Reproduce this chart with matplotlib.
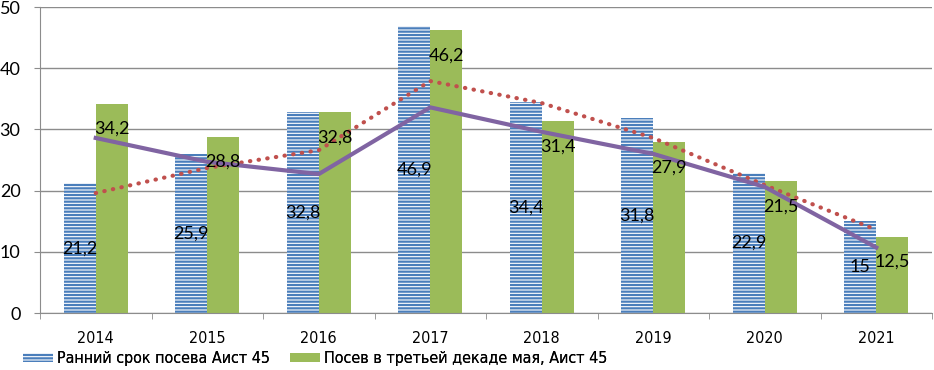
import matplotlib
matplotlib.use("Agg")
import matplotlib.pyplot as plt
import numpy as np

years = ['2014', '2015', '2016', '2017', '2018', '2019', '2020', '2021']
early = [21.2, 25.9, 32.8, 46.9, 34.4, 31.8, 22.9, 15]
late = [34.2, 28.8, 32.8, 46.2, 31.4, 27.9, 21.5, 12.5]
# the two lines drawn across the bars
dotted_line = [19.6, 23.7, 26.6, 37.9, 34.3, 28.6, 20.9, 13.6]
solid_line = [28.6, 24.7, 22.7, 33.6, 29.6, 26.0, 20.6, 10.7]
names = ['Ранний срок посева Аист 45', 'Посев в третьей декаде мая, Аист 45']

plt.rcParams['font.family'] = ['Lato', 'DejaVu Sans']
plt.rcParams['hatch.linewidth'] = 1.6

fig = plt.figure(figsize=(9.34, 3.7), dpi=100)
ax = fig.add_axes([40 / 934, 57 / 370, 892 / 934, 306 / 370])

x = np.arange(len(years))
w = 0.287
blue = '#4a7ebb'
green = '#9bbb59'
narrow = {'family': 'DejaVu Sans', 'stretch': 'condensed', 'size': 11.5}

b1 = ax.bar(x - w / 2, early, w, color='white', edgecolor=blue, linewidth=0,
            hatch='-----', label=names[0], zorder=2)
b2 = ax.bar(x + w / 2, late, w, color=green, linewidth=0, label=names[1], zorder=2)

ax.plot(x, dotted_line, color='#c0504d', linewidth=3, linestyle=(0, (0.1, 2.0)),
        dash_capstyle='round', zorder=3)
ax.plot(x, solid_line, color='#8064a2', linewidth=3, zorder=3)

def fmt(v):
    return ('%g' % v).replace('.', ',')

ax.bar_label(b1, labels=[fmt(v) for v in early], label_type='center',
             fontsize=13, zorder=4)
ax.bar_label(b2, labels=[fmt(v) for v in late], padding=-24,
             fontsize=13, zorder=4)

ax.set_ylim(0, 50)
ax.set_xlim(-0.5, len(years) - 0.5)
ax.set_yticks(range(0, 51, 10))
ax.yaxis.grid(True, color='#8c8c8c', linewidth=1)
ax.set_axisbelow(True)
ax.tick_params(axis='y', length=4.5, color='#8c8c8c', labelsize=13, pad=9.5)

ax.set_xticks(x)
ax.set_xticklabels(years, fontdict=narrow)
ax.set_xticks(np.arange(-0.5, len(years)), minor=True)
ax.tick_params(axis='x', which='major', length=0, pad=13)
ax.tick_params(axis='x', which='minor', length=4.5, color='#8c8c8c')

for s in ['top', 'right']:
    ax.spines[s].set_visible(False)
for s in ['left', 'bottom']:
    ax.spines[s].set_color('#8c8c8c')

for bars, xpos in [(b1, 23), (b2, 290)]:
    leg = fig.legend(handles=[bars], loc='center left',
                     bbox_to_anchor=(xpos / 934, 1 - 359 / 370),
                     frameon=False, borderpad=0, borderaxespad=0,
                     handlelength=1.9, handleheight=0.5, handletextpad=0.25,
                     prop=narrow)
    fig.add_artist(leg)

fig.savefig('out.png', dpi=100)
